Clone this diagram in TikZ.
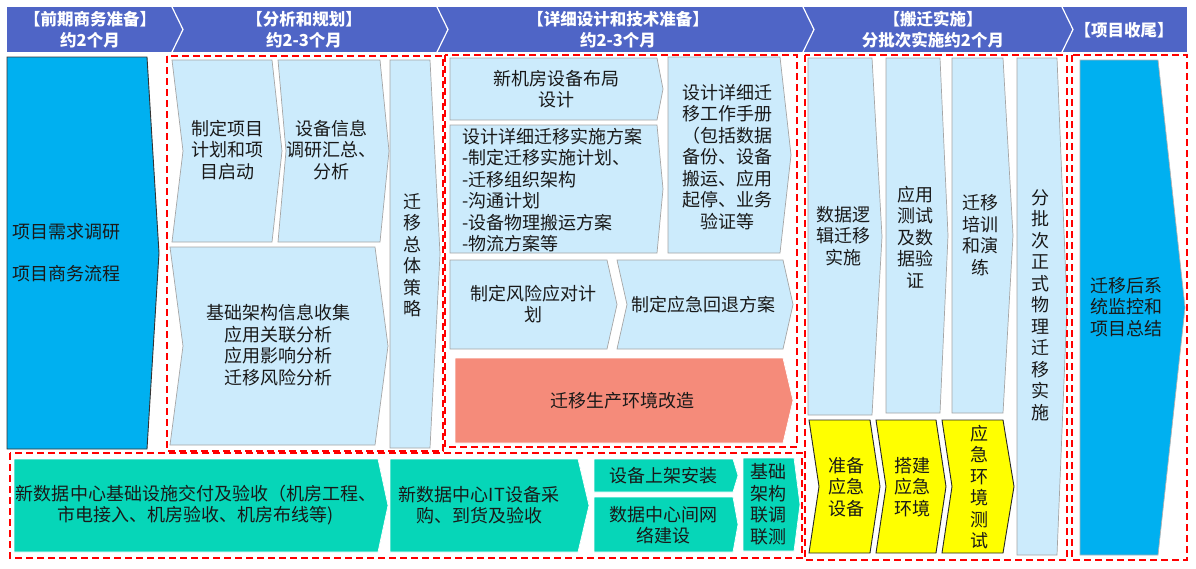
\documentclass[tikz,border=0pt]{standalone}
\usepackage{fontspec}
\setmainfont{Noto Sans CJK SC}
\definecolor{hdblue}{RGB}{79,101,198}
\definecolor{lblue}{RGB}{204,235,252}
\definecolor{cyanblue}{RGB}{0,176,240}
\definecolor{tealbox}{RGB}{6,214,184}
\definecolor{salmonbox}{RGB}{245,139,122}
\definecolor{yelbox}{RGB}{255,255,0}
\definecolor{dashred}{RGB}{255,0,0}
% #1 style, #2 x1, #3 y1, #4 x2, #5 y2, #6 tip depth, #7 notch depth
\newcommand\chevshape[7]{\path[#1] (#2,#3) -- (#4,#3) -- ({#4+#6},{(#3+#5)/2}) -- (#4,#5) -- (#2,#5) -- ({#2+#7},{(#3+#5)/2}) -- cycle;}
\begin{document}
\begin{tikzpicture}[x=1pt,y=-1pt,
  txt/.style={align=center,inner sep=0pt,font=\fontsize{18}{21.5}\selectfont,text=black!90},
  hdtxt/.style={align=center,inner sep=0pt,text=white,font=\bfseries\fontsize{16.5}{21}\selectfont},
  lb/.style={fill=lblue,draw=black!35,line width=0.7pt},
  bigblue/.style={fill=cyanblue,draw=black!80,line width=0.9pt},
  blueend/.style={fill=cyanblue,draw=black!30,line width=0.7pt},
  tl/.style={fill=tealbox,draw=white,line width=0.7pt},
  sal/.style={fill=salmonbox,draw=white,line width=0.7pt},
  yl/.style={fill=yelbox,draw=black!85,line width=0.9pt},
  phase/.style={draw=dashred,line width=1.8pt,dash pattern=on 7pt off 4pt},
  sep/.style={draw=white,line width=1.2pt}]
\useasboundingbox (0,0) rectangle (1196,568);
\fill[white] (0,0) rectangle (1196,568);

% ---------- header band ----------
\fill[hdblue] (7,7) rectangle (1187,52);
\draw[sep] (172,7) -- (183,29.5) -- (172,52);
\draw[sep] (437,7) -- (448,29.5) -- (437,52);
\draw[sep] (803,7) -- (814,29.5) -- (803,52);
\draw[sep] (1062,7) -- (1073,29.5) -- (1062,52);
\node[hdtxt] (h1) at (90,29.5) {【前期商务准备】\\约2个月};
\node[hdtxt] (h2) at (304,29.5) {【分析和规划】\\约2-3个月};
\node[hdtxt] (h3) at (618,29.5) {【详细设计和技术准备】\\约2-3个月};
\node[hdtxt] (h4) at (933,29.5) {【搬迁实施】\\分批次实施约2个月};
\node[hdtxt] (h5) at (1124,30) {【项目收尾】};

% ---------- phase 1 ----------
\chevshape{bigblue}{7}{57}{147}{449}{12}{0}
\node[txt,anchor=west] (l1) at (12,232) {项目需求调研};
\node[txt,anchor=west] (l2) at (12,274) {项目商务流程};

% ---------- phase 2 ----------
\chevshape{lb}{172}{60}{272}{242}{10}{11}
\chevshape{lb}{278}{60}{380}{242}{9}{8}
\chevshape{lb}{170}{247}{375}{445}{13}{13}
\chevshape{lb}{390}{60}{430}{448}{10}{0}
\node[txt] (a1) at (227,150) {制定项目\\计划和项\\目启动};
\node[txt] (a2) at (331,150) {设备信息\\调研汇总、\\分析};
\node[txt] (a3) at (278,345) {基础架构信息收集\\应用关联分析\\应用影响分析\\迁移风险分析};
\node[txt] (a4) at (412,255) {迁\\移\\总\\体\\策\\略};
\draw[phase] (167,56) rectangle (443,451);

% ---------- phase 3 ----------
\chevshape{lb}{450}{58}{657}{120}{6}{0}
\chevshape{lb}{450}{125}{657}{253}{6}{0}
\chevshape{lb}{668}{57}{780}{253}{11}{0}
\chevshape{lb}{450}{260}{607}{349}{10}{0}
\chevshape{lb}{617}{260}{783}{349}{10}{10}
\chevshape{sal}{455}{358}{783}{443}{10}{0}
\node[txt] (d1) at (556,89) {新机房设备布局\\设计};
\node[txt,align=left,anchor=west] (d2) at (462,190) {设计详细迁移实施方案\\-制定迁移实施计划、\\-迁移组织架构\\-沟通计划\\-设备物理搬运方案\\-物流方案等};
\node[txt] (d3) at (727,157) {设计详细迁\\移工作手册\\（包括数据\\备份、设备\\搬运、应用\\起停、业务\\验证等};
\node[txt] (d4) at (533,304) {制定风险应对计\\划};
\node[txt] (d5) at (703,305) {制定应急回退方案};
\node[txt] (d6) at (622,401) {迁移生产环境改造};
\draw[phase] (445,55) rectangle (797,447);

% ---------- phase 4 ----------
\chevshape{lb}{808}{58}{872}{415}{10}{0}
\chevshape{lb}{886}{58}{940}{413}{8}{0}
\chevshape{lb}{952}{58}{1003}{413}{10}{0}
\chevshape{lb}{1017}{58}{1057}{555}{10}{0}
\chevshape{yl}{809}{420}{870}{553}{10}{10}
\chevshape{yl}{876}{420}{936}{553}{10}{10}
\chevshape{yl}{942}{420}{1003}{553}{11}{10}
\node[txt] (s1) at (843,236) {数据逻\\辑迁移\\实施};
\node[txt] (s2) at (915,237) {应用\\测试\\及数\\据验\\证};
\node[txt] (s3) at (980,235) {迁移\\培训\\和演\\练};
\node[txt] (s4) at (1040,305) {分\\批\\次\\正\\式\\物\\理\\迁\\移\\实\\施};
\node[txt] (y1) at (846,487) {准备\\应急\\设备};
\node[txt] (y2) at (912,487) {搭建\\应急\\环境};
\node[txt] (y3) at (979,487) {应\\急\\环\\境\\测\\试};
\draw[phase] (805,55) rectangle (1067,560);

% ---------- phase 5 ----------
\chevshape{blueend}{1080}{60}{1158}{555}{27}{0}
\node[txt] (e1) at (1126,307) {迁移后系\\统监控和\\项目总结};
\draw[phase] (1072,55) rectangle (1187,560);

% ---------- bottom row ----------
\chevshape{tl}{14}{459}{378}{552}{10}{0}
\chevshape{tl}{390}{459}{578}{552}{11}{0}
\chevshape{tl}{594}{459}{733}{492}{5}{0}
\chevshape{tl}{594}{497}{733}{552}{5}{0}
\chevshape{tl}{743}{458}{794}{551}{6}{0}
\node[txt] (b1) at (196,505) {新数据中心基础设施交付及验收（机房工程、\\市电接入、机房验收、机房布线等)};
\node[txt] (b2) at (479,505) {新数据中心IT设备采\\购、到货及验收};
\node[txt] (b3) at (663,476) {设备上架安装};
\node[txt] (b4) at (663,525) {数据中心间网\\络建设};
\node[txt] (b5) at (768,504) {基础\\架构\\联调\\联测};
\draw[phase] (10,453) rectangle (802,558);
\end{tikzpicture}
\end{document}
